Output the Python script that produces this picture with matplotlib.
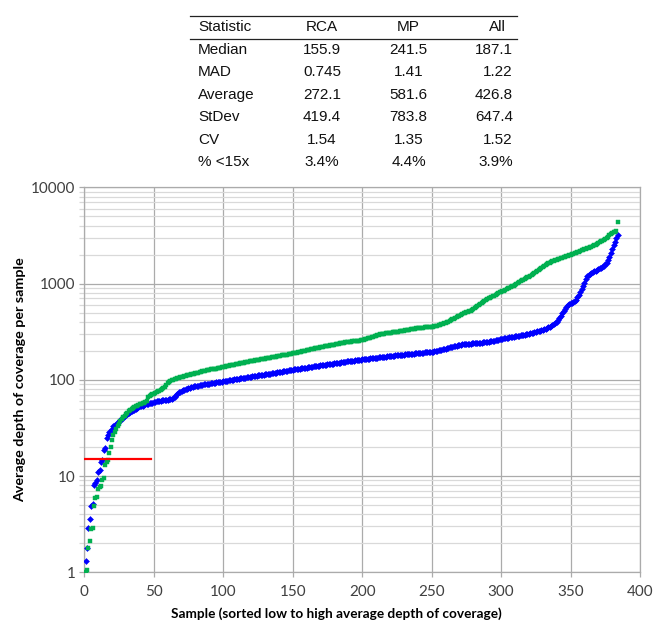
import matplotlib
matplotlib.use('Agg')
import matplotlib.pyplot as plt
import numpy as np
from matplotlib.ticker import FixedLocator, FuncFormatter, NullFormatter
from matplotlib.lines import Line2D

# ---------------- data ----------------
table_header = ["Statistic", "RCA", "MP", "All"]
stat_names = ["Median", "MAD", "Average", "StDev", "CV", "% <15x"]
rca_stats = ["155.9", "0.745", "272.1", "419.4", "1.54", "3.4%"]
mp_stats = ["241.5", "1.41", "581.6", "783.8", "1.35", "4.4%"]
all_stats = ["187.1", "1.22", "426.8", "647.4", "1.52", "3.9%"]

rca_depth = [
    1.3, 1.8, 2.9, 3.6, 4.9, 5.1, 8.0, 8.4, 9.1, 11.0,
    11.6, 14.0, 14.6, 18.5, 19.5, 25.0, 27.0, 28.5, 29.5, 31.0,
    33, 34, 35, 36, 37, 38, 39.5, 41, 42, 43,
    44, 45, 46, 47, 48, 49, 50, 51, 52, 53,
    53.5, 54, 55, 55.5, 56, 56.5, 57, 57.5, 58, 58.5,
    59.3, 59.6, 60, 60.3, 60.6, 61, 61.3, 61.6, 62, 62.3,
    62.6, 63, 63.3, 64, 66, 69, 72, 74, 75.5, 76.5,
    77.5, 78.5, 79.5, 80.5, 81.5, 82.5, 83.5, 84.5, 85.2, 85.8,
    86.4, 87, 87.6, 88.2, 88.8, 89.4, 90, 90.5, 91, 91.5,
    92, 92.5, 93, 93.5, 94, 94.5, 95, 95.5, 96, 96.5,
    97, 97.5, 98, 98.5, 99.5, 100, 100.5, 101, 101.5, 102.5,
    103, 103.5, 104, 104.5, 105, 105.5, 106, 106.5, 107, 108,
    108.5, 109, 109.5, 110, 111, 111.5, 112, 112.5, 113, 114,
    114.5, 115, 115.5, 116, 117, 117.5, 118, 119, 119.5, 120,
    121, 121.5, 122, 123, 123.5, 124.5, 125, 126, 126.5, 127.5,
    128, 129, 129.5, 130, 131, 131.5, 132, 133, 133.5, 134,
    135, 135.5, 136, 137, 138, 138.5, 139, 140, 140.5, 141,
    142, 142.5, 143, 144, 145, 145.5, 146, 147, 147.5, 148,
    149, 150, 150.5, 151, 152, 153, 153.5, 154, 155, 155.5,
    156, 157, 158, 158.5, 159, 160, 161, 161.5, 162, 163,
    163.5, 164, 165, 165.5, 166, 167, 167.5, 168, 169, 169.5,
    170, 171, 171.5, 172, 173, 173.5, 174, 175, 175.5, 176,
    177, 177.5, 178, 179, 179.5, 180, 181, 181.5, 182, 183,
    183.5, 184, 185, 185.5, 186, 187, 187.5, 188, 189, 189.5,
    190, 191, 191.5, 192, 192.5, 193, 193.5, 194, 194.5, 195,
    196, 197.5, 199, 200.5, 202, 203.5, 205, 207, 209, 211,
    213, 215, 217, 219, 221, 223, 225, 227, 229, 231,
    232, 233, 234, 235, 236, 237, 237.5, 238, 238.5, 239,
    240, 240.5, 241, 242, 243, 244, 245, 246, 247, 248,
    249.5, 251, 252.5, 254, 256, 258, 260, 262, 264, 266,
    268, 269.5, 271, 273, 274.5, 276, 277.5, 279, 281, 283,
    284.5, 286, 288, 289.5, 291, 293, 295, 296.5, 298, 300,
    303, 306, 309, 312, 315, 318, 321, 324, 327, 330,
    335, 340, 345, 350, 355, 362, 369, 376, 388, 400,
    415, 440, 465, 490, 515, 545, 575, 595, 610, 622,
    632, 645, 660, 680, 720, 765, 815, 870, 940, 1020,
    1120, 1190, 1230, 1260, 1285, 1310, 1335, 1360, 1385, 1410,
    1435, 1460, 1490, 1530, 1580, 1650, 1750, 1900, 2100, 2300,
    2500, 2700, 2950, 3200,
]

mp_depth = [
    1.0, 1.05, 1.8, 2.1, 2.8, 2.9, 4.9, 5.9, 6.1, 7.4,
    7.7, 7.9, 9.1, 9.6, 13.0, 14.0, 14.8, 17.5, 20.0, 23.5,
    26.5, 29, 31, 33, 35, 37, 39, 41, 42.5, 44,
    45.5, 47, 48.5, 50, 51, 52, 53, 54, 55, 56,
    56.5, 57, 57.5, 58.5, 60, 66, 68, 70, 71, 72,
    73, 75, 76, 77, 78, 80, 82, 85, 89, 93,
    96, 98, 99, 100, 101, 102.5, 104, 105, 106, 107,
    108, 109, 110, 111, 112, 113, 114, 115, 116, 117,
    118, 119, 120, 121, 122, 123, 124, 125, 126, 127,
    128, 129, 130, 130.5, 131, 132, 133, 134, 135, 136,
    137, 138, 139, 140, 141, 142, 143, 144, 145, 146,
    147, 148, 149, 150, 151, 152, 153, 154, 155, 156,
    157, 158, 159, 160, 161, 162, 163, 164, 165, 166,
    167, 168, 169, 170, 171, 172, 173, 174, 175, 176.5,
    177.5, 179, 180, 181, 182, 183, 184.5, 185.5, 186.5, 188,
    189, 190.5, 192, 193.5, 195, 196.5, 198, 199.5, 201, 202.5,
    204, 205.5, 207, 208.5, 210, 211.5, 213, 214.5, 216, 217.5,
    219, 220.5, 222, 223.5, 225, 226.5, 228, 229.5, 231, 232.5,
    234, 235.5, 237, 238.5, 240, 241.5, 243, 244.5, 246, 247,
    248, 249, 250, 251, 252, 253, 254, 255.5, 257, 258,
    260, 263, 266, 269, 272, 275, 278, 281, 284, 287,
    290, 293, 296, 299, 301, 302.5, 304, 305.5, 307, 308.5,
    310, 311.5, 313, 314.5, 316, 317.5, 319, 321, 323, 325,
    327, 329, 331, 333, 335, 337, 339, 341, 343, 345,
    346, 347, 348, 349, 350, 351, 352, 353, 354, 355,
    357, 360, 363, 366, 370, 374, 378, 382, 387, 392,
    397, 402, 410, 418, 425, 432, 440, 448, 456, 464,
    472, 480, 490, 500, 505, 510, 515, 520, 530, 540,
    552, 565, 580, 595, 610, 625, 645, 665, 680, 690,
    700, 710, 720, 735, 750, 765, 780, 795, 808, 820,
    830, 845, 860, 875, 890, 905, 920, 935, 950, 965,
    985, 1005, 1030, 1055, 1080, 1100, 1120, 1140, 1160, 1180,
    1205, 1230, 1260, 1290, 1320, 1350, 1380, 1410, 1440, 1470,
    1510, 1550, 1590, 1620, 1650, 1675, 1700, 1720, 1740, 1760,
    1780, 1800, 1825, 1850, 1875, 1900, 1925, 1950, 1975, 2000,
    2025, 2050, 2075, 2100, 2125, 2150, 2180, 2210, 2240, 2270,
    2300, 2330, 2360, 2390, 2420, 2450, 2490, 2530, 2570, 2620,
    2680, 2740, 2800, 2850, 2900, 2950, 3050, 3200, 3300, 3350,
    3400, 3450, 3550, 4400,
]

threshold = 15
threshold_span = [0, 48]
x_ticks = [0, 50, 100, 150, 200, 250, 300, 350, 400]
y_ticks = [1, 10, 100, 1000, 10000]

# ---------------- figure ----------------
W, H = 654, 623
fig = plt.figure(figsize=(W / 100, H / 100), dpi=100)
fig.patch.set_facecolor('white')

def fx(px):
    return px / W

def fy(py):
    return 1 - py / H

ax_left, ax_right = 84.3, 640.0
ax_w = ax_right - ax_left
ax = fig.add_axes([fx(ax_left), fy(572.3), ax_w / W, (572.3 - 187.3) / H])
ax.set_yscale('log')
ax.set_xlim(0, 400)
ax.set_ylim(1, 10000)

grid_major = '#ababab'
grid_minor = '#d9d9d9'

ax.xaxis.set_major_locator(FixedLocator(x_ticks))
ax.yaxis.set_major_locator(FixedLocator(y_ticks))
minor_y = [m * 10 ** e for e in range(0, 4) for m in range(2, 10)]
ax.yaxis.set_minor_locator(FixedLocator(minor_y))
ax.yaxis.set_minor_formatter(NullFormatter())
ax.yaxis.set_major_formatter(FuncFormatter(lambda v, p: f"{int(round(v))}"))

ax.grid(True, which='minor', axis='y', color=grid_minor, lw=0.9, zorder=0)
ax.grid(True, which='major', axis='y', color=grid_major, lw=0.9, zorder=0)
ax.grid(True, which='major', axis='x', color=grid_major, lw=0.9, zorder=0)
ax.set_axisbelow(True)

for s in ax.spines.values():
    s.set_color(grid_major)
    s.set_linewidth(0.9)

tick_font = 'Lato'
ax.tick_params(axis='both', which='major', direction='out', length=3.5,
               width=0.9, color=grid_major, labelsize=11, labelcolor='#404040')
ax.tick_params(axis='y', which='minor', direction='out', length=3.5,
               width=0.9, color=grid_minor)
ax.tick_params(axis='y', pad=3)
ax.tick_params(axis='x', pad=6)
for lab in ax.get_xticklabels() + ax.get_yticklabels():
    lab.set_fontfamily(tick_font)

x_rca = np.arange(1, len(rca_depth) + 1)
x_mp = np.arange(1, len(mp_depth) + 1)

ax.plot(x_rca, rca_depth, linestyle='none', marker='D', ms=3.0,
        mfc='#0000ff', mec='#0000ff', mew=0.4, zorder=3)
ax.plot(x_mp, mp_depth, linestyle='none', marker='s', ms=3.5,
        mfc='#00b050', mec='#00b050', mew=0.3, zorder=4)
ax.plot(threshold_span, [threshold, threshold], color='#ff0000', lw=1.6, zorder=5)

ax.set_xlabel("Sample (sorted low to high average depth of coverage)",
              fontfamily=tick_font, fontweight='bold', fontsize=9.8, labelpad=6)
ax.xaxis.label.set_x((336 - ax_left) / ax_w)
ax.set_ylabel("Average depth of coverage per sample",
              fontfamily=tick_font, fontweight='bold', fontsize=10.3)
ax.yaxis.set_label_coords((26 - ax_left) / ax_w, 0.5)

# ---------------- table ----------------
tfont = 'Liberation Sans'
tsize = 11
fig.add_artist(Line2D([fx(190), fx(517)], [fy(15.5), fy(15.5)], color='#222222', lw=0.9))
fig.add_artist(Line2D([fx(190), fx(517)], [fy(39), fy(39)], color='#222222', lw=0.9))

col_x = [198, 322, 408.5, 513]
col_ha = ['left', 'center', 'center', 'right']
header_y = 27
for i, h in enumerate(table_header):
    xx = col_x[i] if i < 3 else 506
    fig.text(fx(xx), fy(header_y), h, ha=col_ha[i], va='center',
             fontfamily=tfont, fontsize=tsize, color='#111111')

row_y0 = 49.5
row_dy = 22.6
for r in range(len(stat_names)):
    yy = fy(row_y0 + r * row_dy)
    vals = [stat_names[r], rca_stats[r], mp_stats[r], all_stats[r]]
    for i, v in enumerate(vals):
        fig.text(fx(col_x[i]), yy, v, ha=col_ha[i], va='center',
                 fontfamily=tfont, fontsize=tsize, color='#111111')

fig.savefig('out.png', dpi=100, facecolor='white')
